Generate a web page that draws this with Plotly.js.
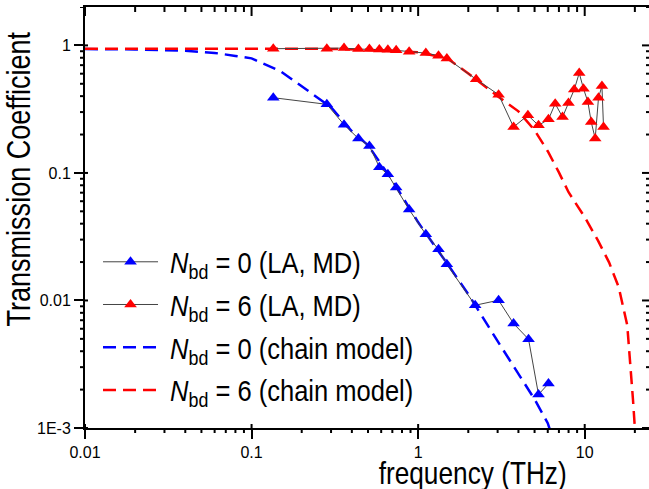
<!DOCTYPE html>
<html><head><meta charset="utf-8">
<script src="https://cdn.plot.ly/plotly-3.0.1.min.js"></script>
<style>html,body{margin:0;padding:0;overflow:hidden;background:#fff;width:649px;height:489px}#chart{width:652px;height:489px}</style>
</head><body><div id="chart"></div>
<script>
// MD frequencies (THz) and transmission
const freqMD6 = [0.135,0.283,0.359,0.438,0.51,0.585,0.658,0.738,0.883,1.112,1.325,1.487,2.23,3.04,3.74,4.56,5.28,6.06,6.65,7.36,7.99,8.65,9.27,9.83,10.45,10.94,11.56,12.1,12.69,12.97];
const transMD6 = [0.942,0.942,0.952,0.935,0.935,0.93,0.925,0.914,0.892,0.87,0.83,0.791,0.542,0.411,0.229,0.283,0.236,0.263,0.349,0.274,0.353,0.45,0.607,0.458,0.36,0.251,0.186,0.389,0.48,0.229];
const freqMD0 = [0.135,0.283,0.359,0.438,0.51,0.585,0.658,0.738,0.883,1.112,1.325,1.487,2.2,3.04,3.74,4.6,5.28,6.06];
const transMD0 = [0.389,0.345,0.239,0.186,0.1625,0.111,0.0975,0.0767,0.0516,0.033,0.0252,0.0192,0.00917,0.01004,0.00659,0.00497,0.00183,0.00223];
// chain model curves
const freqChain0 = [0.01,0.02,0.04,0.06,0.08,0.1,0.15,0.2,0.25,0.3,0.4,0.5,0.7,1.0,1.5,2,3,4,5,6,6.3];
const transChain0 = [0.935,0.93,0.909,0.873,0.827,0.791,0.625,0.477,0.384,0.327,0.212,0.165,0.0874,0.041,0.0193,0.0112,0.0048,0.00269,0.00168,0.00109,0.0009];
const freqChain6 = [0.01,0.1,0.3,0.5,0.7,1.0,1.5,2,3,4,5,6,7,8,10,12,14,16,18,19,19.5,20,20.05];
const transChain6 = [0.942,0.942,0.939,0.922,0.906,0.882,0.791,0.603,0.400,0.304,0.216,0.148,0.101,0.0706,0.045,0.0296,0.0199,0.0127,0.0064,0.00284,0.00165,0.001,0.0003];
// tick labels
const xTickVals = [0.01,0.1,1,10];
const xTickText = ['0.01','0.1','1','10'];
const yTickVals = [0.001,0.01,0.1,1];
const yTickText = ['1E-3','0.01','0.1','1'];
const xMax = 25, yMax = 2;

// log-axis tick values (data units)
function logTicks(e0, e1, vmax){
  const maj = [], min = [];
  for (let e=e0;e<=e1;e++) for (let k=1;k<=9;k++){
    const val=k*Math.pow(10,e); if (val>vmax*1.0001) continue;
    (k===1 ? maj : min).push(val);
  }
  return {maj, min};
}
const xT = logTicks(-2, 1, xMax), yT = logTicks(-3, 0, yMax);

const shapes = [];
const tickLine = {color:'#000', width:2};
function xTick(v, side, a, b){ // side 0 bottom, 1 top; pixel offsets, up positive
  shapes.push({type:'line', xref:'x', x0:v, x1:v, yref:'paper', ysizemode:'pixel', yanchor:side, y0:a, y1:b, line:tickLine});
}
function yTick(v, side, a, b){ // side 0 left, 1 right; pixel offsets, right positive
  shapes.push({type:'line', yref:'y', y0:v, y1:v, xref:'paper', xsizemode:'pixel', xanchor:side, x0:a, x1:b, line:tickLine});
}
xT.min.forEach(v => { xTick(v, 0, 0, -5); xTick(v, 1, 0, -5); });
xT.maj.forEach(v => { xTick(v, 0, 0, 4); xTick(v, 1, 0, -9); });
yT.min.forEach(v => { yTick(v, 0, 0, -5); yTick(v, 1, 0, -5); });
yT.maj.forEach(v => { yTick(v, 0, 0, 3); yTick(v, 1, 0, -9); });

const FONT = '"Liberation Sans", Arial, sans-serif';
const legTxt = (n, s) => '\u00A0<i>N</i><sub>bd</sub> = ' + n + ' (' + s + ')';

const traces = [
  {x: freqChain0, y: transChain0, mode:'lines', name: legTxt(0,'chain model'), legendrank:3, legendgroup:'c',
   line:{color:'#0000FF', width:2.5, dash:'13px,7px'}},
  {x: freqChain6, y: transChain6, mode:'lines', name: legTxt(6,'chain model'), legendrank:4, legendgroup:'d',
   line:{color:'#FF0000', width:2.5, dash:'13px,7px'}},
  {x: freqMD0, y: transMD0, mode:'lines+markers', name: legTxt(0,'LA, MD'), legendrank:1, legendgroup:'a',
   line:{color:'#444', width:1}, marker:{symbol:'triangle-up', size:11, color:'#0000FF'}},
  {x: freqMD6, y: transMD6, mode:'lines+markers', name: legTxt(6,'LA, MD'), legendrank:2, legendgroup:'b',
   line:{color:'#444', width:1}, marker:{symbol:'triangle-up', size:11, color:'#FF0000'}}
];

const XR = [-2, Math.log10(xMax)], YR = [-3, Math.log10(yMax)];
const axBase = {type:'log', showgrid:false, zeroline:false, tickmode:'array', ticks:'outside', ticklen:9, tickwidth:2,
  tickcolor:'#000', showline:true, mirror:true, linewidth:2, linecolor:'#000', tickfont:{size:16, family:FONT, color:'#000'}};
const layout = {
  width:652, height:489,
  margin:{l:85, r:1, t:7, b:61},
  paper_bgcolor:'#fff', plot_bgcolor:'#fff',
  font:{family:FONT, color:'#000'},
  showlegend:true,
  legend:{x:0.023, y:0.455, xanchor:'left', yanchor:'top', bgcolor:'rgba(0,0,0,0)', borderwidth:0,
    font:{family:FONT, size:29, color:'#000'}, itemwidth:55, tracegroupgap:2, traceorder:'grouped'},
  xaxis: Object.assign({}, axBase, {range:XR, tickvals:xTickVals, ticktext:xTickText}),
  yaxis: Object.assign({}, axBase, {range:YR, tickvals:yTickVals, ticktext:yTickText}),
  shapes: shapes,
  annotations:[
    {text:'frequency (THz)', xref:'paper', yref:'paper', x:(472-85)/566, y:(428-473)/421, xanchor:'center', yanchor:'middle',
      showarrow:false, font:{size:32, family:FONT}},
    {text:'Transmission Coefficient', xref:'paper', yref:'paper', x:(18-85)/566, y:(428-180)/421, xanchor:'center', yanchor:'middle',
      textangle:-90, showarrow:false, font:{size:33, family:FONT}}
  ]
};
// narrow (condensed) lettering as in the reference: squeeze text horizontally around its anchor
function narrow(sel, f){
  document.querySelectorAll(sel).forEach(t => {
    const x = parseFloat(t.getAttribute('x')) || 0;
    t.setAttribute('transform', 'matrix(' + f + ',0,0,1,' + (x*(1-f)) + ',0)');
  });
}
Plotly.newPlot('chart', traces, layout, {staticPlot:true, displayModeBar:false}).then(() => {
  narrow('.legendtext', 0.88);
  narrow('.annotation-text', 0.82);
});
</script>
</body></html>
